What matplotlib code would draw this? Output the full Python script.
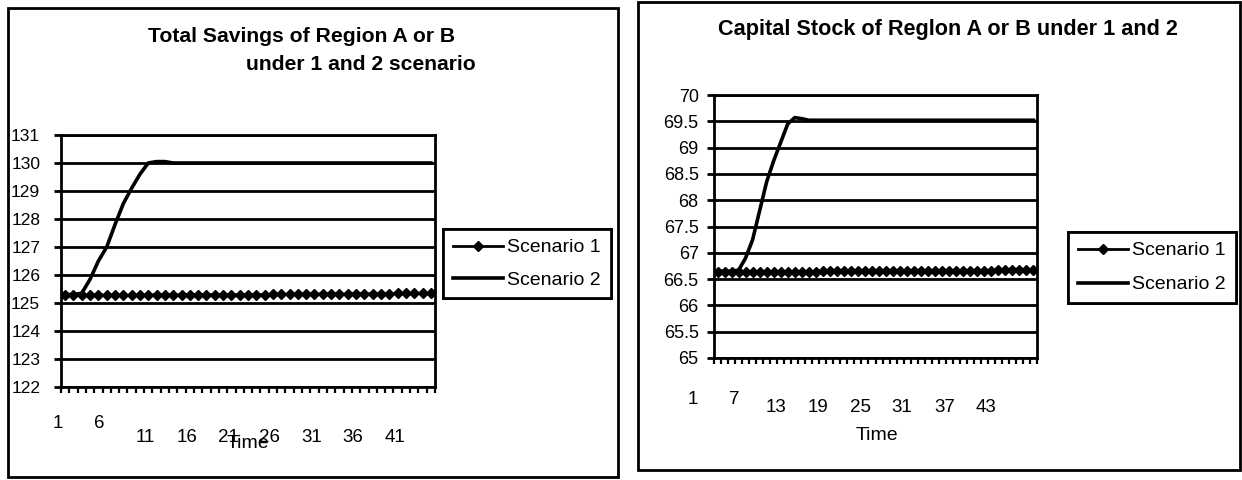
import matplotlib
matplotlib.use("Agg")
import matplotlib.pyplot as plt
import matplotlib.transforms as mtransforms
from matplotlib.patches import Rectangle

plt.rcParams['font.family'] = ['Liberation Sans', 'DejaVu Sans']

W, H = 1242, 480

# ---- left chart: total savings ----
sav_time = list(range(1, 46))
sav_s1 = [125.28, 125.28, 125.28, 125.28, 125.28, 125.28, 125.28, 125.28, 125.28, 125.28,
          125.29, 125.29, 125.29, 125.29, 125.29, 125.3, 125.3, 125.3, 125.3, 125.3,
          125.3, 125.3, 125.3, 125.3, 125.3, 125.31, 125.31, 125.31, 125.31, 125.31,
          125.32, 125.32, 125.32, 125.32, 125.32, 125.33, 125.33, 125.33, 125.33, 125.33,
          125.34, 125.34, 125.34, 125.34, 125.34]
sav_s2 = [125.3, 125.3, 125.35, 125.85, 126.5, 127.0, 127.8, 128.55, 129.1, 129.6,
          130.0, 130.05, 130.05, 130.0, 130.0, 130.0, 130.0, 130.0, 130.0, 130.0,
          130.0, 130.0, 130.0, 130.0, 130.0, 130.0, 130.0, 130.0, 130.0, 130.0,
          130.0, 130.0, 130.0, 130.0, 130.0, 130.0, 130.0, 130.0, 130.0, 130.0,
          130.0, 130.0, 130.0, 130.0, 130.0]
sav_yticks = [122, 123, 124, 125, 126, 127, 128, 129, 130, 131]
sav_xlabels = [1, 6, 11, 16, 21, 26, 31, 36, 41]

# ---- right chart: capital stock ----
cap_time = list(range(1, 47))
cap_s1 = [66.64, 66.64, 66.64, 66.64, 66.64, 66.64, 66.64, 66.64, 66.64, 66.64,
          66.64, 66.64, 66.64, 66.64, 66.64, 66.65, 66.65, 66.65, 66.65, 66.65,
          66.65, 66.65, 66.65, 66.65, 66.65, 66.65, 66.65, 66.65, 66.65, 66.65,
          66.66, 66.66, 66.66, 66.66, 66.66, 66.66, 66.66, 66.66, 66.66, 66.66,
          66.67, 66.67, 66.67, 66.67, 66.67, 66.67]
cap_s2 = [66.65, 66.65, 66.65, 66.67, 66.9, 67.25, 67.8, 68.35, 68.75, 69.1,
          69.45, 69.57, 69.55, 69.52, 69.52, 69.52, 69.52, 69.52, 69.52, 69.52,
          69.52, 69.52, 69.52, 69.52, 69.52, 69.52, 69.52, 69.52, 69.52, 69.52,
          69.52, 69.52, 69.52, 69.52, 69.52, 69.52, 69.52, 69.52, 69.52, 69.52,
          69.52, 69.52, 69.52, 69.52, 69.52, 69.52]
cap_yticks = [65, 65.5, 66, 66.5, 67, 67.5, 68, 68.5, 69, 69.5, 70]
cap_ylabels = ['65', '65.5', '66', '66.5', '67', '67.5', '68', '68.5', '69', '69.5', '70']
cap_xlabels = [1, 7, 13, 19, 25, 31, 37, 43]


def fx(px):
    return px / W


def fy(py):
    return 1 - py / H


fig = plt.figure(figsize=(W / 100, H / 100), dpi=100)

# outer frames
fig.patches.append(Rectangle((fx(8), fy(477)), fx(618) - fx(8), fy(8) - fy(477),
                             transform=fig.transFigure, fill=False, ec='black', lw=2))
fig.patches.append(Rectangle((fx(638), fy(470)), fx(1240) - fx(638), fy(2) - fy(470),
                             transform=fig.transFigure, fill=False, ec='black', lw=2))

ax1 = fig.add_axes([fx(61), fy(387), fx(435) - fx(61), fy(135) - fy(387)])
ax2 = fig.add_axes([fx(714), fy(358), fx(1037) - fx(714), fy(95) - fy(358)])


def style(ax, n, yticks, ylim, ypad, ysize):
    ax.set_xlim(0.5, n + 0.5)
    ax.set_ylim(*ylim)
    ax.set_yticks(yticks)
    ax.set_xticks([i + 0.5 for i in range(n + 1)])
    ax.set_xticklabels([])
    ax.yaxis.grid(True, color='black', lw=2)
    ax.set_axisbelow(True)
    for s in ax.spines.values():
        s.set_color('black')
        s.set_linewidth(2)
    ax.tick_params(axis='x', direction='out', length=4, width=1.6)
    ax.tick_params(axis='y', direction='out', length=5, width=2, pad=ypad,
                   labelsize=ysize)


style(ax1, 45, sav_yticks, (122, 131), 10, 12.5)
style(ax2, 46, cap_yticks, (65, 70), 6, 13)
ax2.set_yticklabels(cap_ylabels)

l1, = ax1.plot(sav_time, sav_s1, color='black', lw=2, marker='D', ms=5.5,
               label='Scenario 1')
l2, = ax1.plot(sav_time, sav_s2, color='black', lw=2.6, label='Scenario 2')
ax2.plot(cap_time, cap_s1, color='black', lw=2, marker='D', ms=5.5, label='Scenario 1')
ax2.plot(cap_time, cap_s2, color='black', lw=2.6, label='Scenario 2')


def xlabels(ax, labels, n_high, dx_high, dy_high, dx, dy):
    base = mtransforms.blended_transform_factory(ax.transData, ax.transAxes)
    for i, lab in enumerate(labels):
        if i < n_high:
            off = mtransforms.ScaledTranslation(dx_high / 100, dy_high / 100, fig.dpi_scale_trans)
        else:
            off = mtransforms.ScaledTranslation(dx / 100, dy / 100, fig.dpi_scale_trans)
        ax.text(lab, 0, str(lab), transform=base + off, ha='center', va='center',
                fontsize=13.5, clip_on=False)


xlabels(ax1, sav_xlabels, 2, -7, -36, -3, -51)
xlabels(ax2, cap_xlabels, 2, -25, -42, -26, -50)

fig.text(fx(248), fy(443), 'Time', ha='center', va='center', fontsize=14)
fig.text(fx(877), fy(435), 'Time', ha='center', va='center', fontsize=14)

# titles
fig.text(fx(302), fy(37), 'Total Savings of Region A or B', ha='center', va='center',
         fontsize=15.2, fontweight='bold')
fig.text(fx(476), fy(65), 'under 1 and 2 scenario', ha='right', va='center',
         fontsize=15.2, fontweight='bold')
fig.text(fx(948), fy(30), 'Capital Stock of Reglon A or B under 1 and 2', ha='center',
         va='center', fontsize=15.6, fontweight='bold')

legend_boxes = [((fx(443), fy(229)), 0.75), ((fx(1068), fy(232)), 0.85)]
for anchor, spacing in legend_boxes:
    leg = fig.legend(handles=[l1, l2], loc='upper left', bbox_to_anchor=anchor,
                     fontsize=14, frameon=True, fancybox=False, framealpha=1,
                     edgecolor='black', handlelength=2.6, handletextpad=0.2,
                     borderpad=0.5, labelspacing=spacing, borderaxespad=0)
    leg.get_frame().set_linewidth(2)
    fig.add_artist(leg)

fig.savefig('out.png', dpi=100)
